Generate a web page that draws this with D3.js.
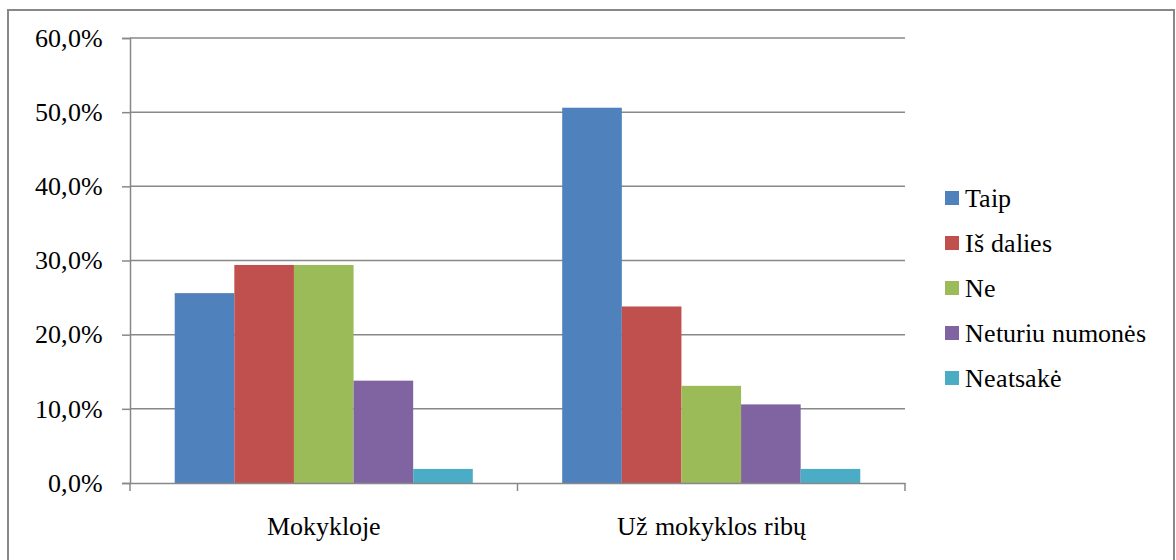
<!DOCTYPE html>
<html>
<head>
<meta charset="utf-8">
<script src="https://cdn.jsdelivr.net/npm/d3@7"></script>
<style>
  @font-face {
    font-family: "ChartSerif";
    src: local("Liberation Serif"), local("LiberationSerif-Regular"), local("Liberation Serif Regular"),
         local("Tinos"), local("DejaVu Serif"), local("DejaVuSerif"), local("Noto Serif");
  }
  body { margin: 0; background: #fff; }
  svg text { font-family: "ChartSerif", "Liberation Serif", "Times New Roman", serif !important; }
</style>
</head>
<body>
<svg id="chart" width="1176" height="560"></svg>
<script>
const categories = ['Mokykloje', 'Už mokyklos ribų'];
const series = ['Taip', 'Iš dalies', 'Ne', 'Neturiu numonės', 'Neatsakė'];
const values = [
  [25.6, 29.4, 29.4, 13.8, 1.9],
  [50.6, 23.8, 13.1, 10.6, 1.9],
];
const yTicks = [0, 10, 20, 30, 40, 50, 60];
const colors = ['#4F81BD', '#C0504D', '#9BBB59', '#8064A2', '#4BACC6'];

const svg = d3.select('#chart');
const plot = { left: 130, right: 905, top: 38, bottom: 483 };
const gridColor = '#888';

svg.append('rect')
  .attr('x', 8).attr('y', 10).attr('width', 1166).attr('height', 560)
  .attr('fill', 'none').attr('stroke', gridColor).attr('stroke-width', 2);

const x0 = d3.scaleBand().domain(categories).range([plot.left, plot.right]);
const x1 = d3.scaleBand().domain(series).range([0, x0.bandwidth()]).paddingOuter(0.75);
const y = d3.scaleLinear().domain([0, 60]).range([plot.bottom, plot.top]);

// gridlines
svg.append('g').selectAll('line').data(yTicks.filter(t => t > 0)).join('line')
  .attr('x1', plot.left).attr('x2', plot.right)
  .attr('y1', d => y(d)).attr('y2', d => y(d))
  .attr('stroke', gridColor).attr('stroke-width', 1.5);

// bars
svg.append('g').selectAll('g').data(categories).join('g')
  .attr('transform', c => `translate(${x0(c)},0)`)
  .selectAll('rect')
  .data((c, i) => series.map((s, j) => ({ s, j, v: values[i][j] })))
  .join('rect')
  .attr('x', d => x1(d.s))
  .attr('width', x1.bandwidth())
  .attr('y', d => y(d.v))
  .attr('height', d => y(0) - y(d.v))
  .attr('fill', d => colors[d.j]);

// y axis
const yAxis = svg.append('g')
  .attr('transform', `translate(${plot.left},0)`)
  .call(d3.axisLeft(y).tickValues(yTicks).tickSize(8).tickPadding(19)
    .tickFormat(d => d3.format('.1f')(d).replace('.', ',') + '%'));
yAxis.select('.domain').attr('stroke', gridColor).attr('stroke-width', 1.5);
yAxis.selectAll('.tick line').attr('stroke', gridColor).attr('stroke-width', 1.5);
yAxis.selectAll('text').attr('font-size', 26).attr('fill', '#000');

// x axis
const xAxis = svg.append('g')
  .attr('transform', `translate(0,${plot.bottom})`)
  .call(d3.axisBottom(x0).tickSize(0).tickPadding(34));
xAxis.select('.domain').attr('stroke', gridColor).attr('stroke-width', 1.5);
xAxis.selectAll('text').attr('font-size', 26).attr('fill', '#000');
xAxis.append('g').selectAll('line')
  .data([plot.left, ...categories.map(c => x0(c) + x0.bandwidth())])
  .join('line')
  .attr('x1', d => d).attr('x2', d => d).attr('y1', 0).attr('y2', 8)
  .attr('stroke', gridColor).attr('stroke-width', 1.5);

// legend
const legend = svg.append('g').attr('transform', 'translate(945,198)');
const item = legend.selectAll('g').data(series).join('g')
  .attr('transform', (d, i) => `translate(0,${i * 45})`);
item.append('rect')
  .attr('x', 0).attr('y', -7).attr('width', 14).attr('height', 14)
  .attr('fill', (d, i) => colors[i]);
item.append('text')
  .attr('x', 20).attr('y', 9)
  .attr('font-size', 26)
  .text(d => d);
</script>
</body>
</html>
